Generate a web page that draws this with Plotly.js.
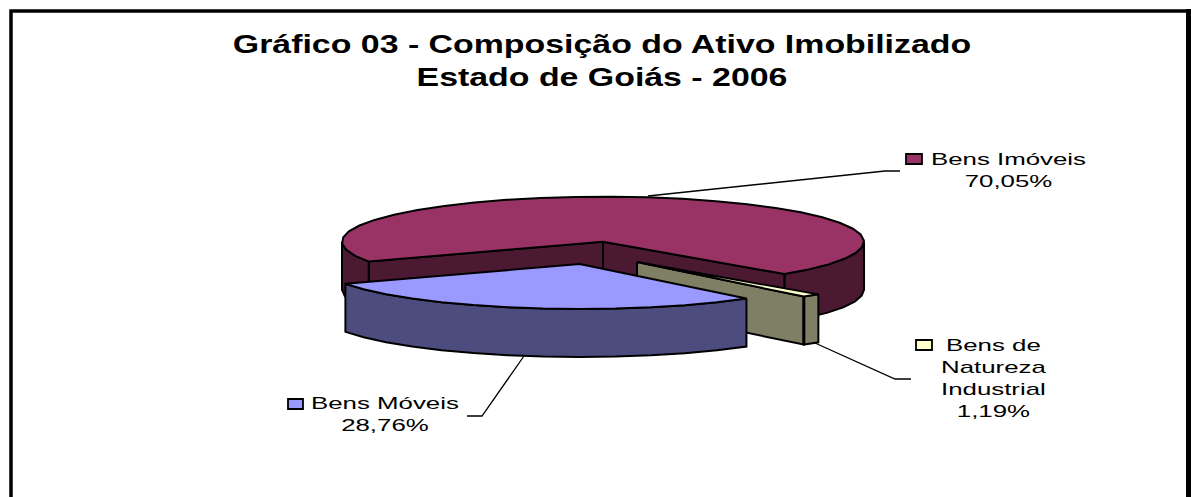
<!DOCTYPE html>
<html><head><meta charset="utf-8">
<script src="https://cdn.plot.ly/plotly-3.0.1.min.js"></script>
<style>
html,body{margin:0;padding:0;background:#fff}
#chart{width:1191px;height:497px}
.gtitle{transform-box:fill-box;transform-origin:center;transform:scaleX(1.355)}
.annotation-text{transform-box:fill-box;transform-origin:center;transform:scaleX(1.52)}
</style></head><body><div id="chart"></div>
<script>
const categories = ["Bens Imóveis", "Bens de Natureza Industrial", "Bens Móveis"];
const values = [70.05, 1.19, 28.76];
const titleLines = ["Gráfico 03 - Composição do Ativo Imobilizado", "Estado de Goiás - 2006"];
const topColors = ["#993366", "#ffffcc", "#9999ff"];
const sideColors = ["#4c1933", "#7f7f66", "#4c4c7f"];

const RX = 261, RY = 45, H = 48, START = 153.8, STEP = 8;
const centers = [[603, 241.7], [637, 262], [579.6, 264]];
const labelPos = [[1008, 170], [994, 378], [385, 414]];
const keyBoxes = [[906, 154, 922, 164], [916, 340, 932, 350], [288, 399, 303, 409]];
const leaders = [
  [[648, 196], [885, 171], [900, 171]],
  [[815, 343], [895, 379], [911, 379]],
  [[524, 356], [482, 416], [467, 416]]
];

const rad = d => d * Math.PI / 180;
const pt = (c, a, dy) => [c[0] + RX * Math.cos(rad(a)), c[1] + RY * Math.sin(rad(a)) + (dy || 0)];
function arc(c, a0, a1, dy) {
  const out = [];
  const n = Math.max(1, Math.round((a1 - a0) / STEP));
  for (let i = 0; i <= n; i++) out.push(pt(c, a0 + (a1 - a0) * i / n, dy));
  return out;
}
const traces = [];
function poly(points, fill, w) {
  const p = points.concat([points[0]]);
  traces.push({type: "scatter", mode: "lines", x: p.map(q => q[0]), y: p.map(q => q[1]),
    fill: "toself", fillcolor: fill, line: {color: "#000", width: w || 2, shape: "linear"},
    hoverinfo: "skip", showlegend: false});
}
function rim(c, a0, a1, col) {
  poly(arc(c, a0, a1, 0).concat(arc(c, a0, a1, H).reverse()), col);
}
function wall(c, a, col) {
  const t = pt(c, a);
  poly([c, t, [t[0], t[1] + H], [c[0], c[1] + H]], col);
}
function face(c, a0, a1, col) {
  poly([c].concat(arc(c, a0, a1, 0)), col);
}

const total = values.reduce((s, v) => s + v, 0);
const spans = [];
let acc = START;
values.forEach(v => { const e = acc + v / total * 360; spans.push([acc, e]); acc = e; });

// Bens Imóveis
rim(centers[0], spans[0][0], 180, sideColors[0]);
rim(centers[0], 360, spans[0][1], sideColors[0]);
wall(centers[0], spans[0][0], sideColors[0]);
wall(centers[0], spans[0][1], sideColors[0]);
face(centers[0], spans[0][0], spans[0][1], topColors[0]);
// Bens de Natureza Industrial
wall(centers[1], spans[1][1], sideColors[1]);
rim(centers[1], spans[1][0], spans[1][1], sideColors[1]);
face(centers[1], spans[1][0], spans[1][1], topColors[1]);
const edge = pt(centers[1], spans[1][1]);
traces.push({type: "scatter", mode: "lines", x: [edge[0], edge[0]], y: [edge[1], edge[1] + H],
  line: {color: "#000", width: 3}, hoverinfo: "skip", showlegend: false});
// Bens Móveis
rim(centers[2], spans[2][0], spans[2][1], sideColors[2]);
face(centers[2], spans[2][0], spans[2][1], topColors[2]);

// Leader lines
leaders.forEach(l => traces.push({type: "scatter", mode: "lines", x: l.map(q => q[0]), y: l.map(q => q[1]),
  line: {color: "#000", width: 1.3}, hoverinfo: "skip", showlegend: false}));

const wrapped = ["Bens Imóveis", "Bens de<br>Natureza<br>Industrial", "Bens Móveis"];
const annotations = categories.map((c, i) => ({
  xref: "x", yref: "y", x: labelPos[i][0], y: labelPos[i][1], xanchor: "center", yanchor: "middle",
  text: wrapped[i] + "<br>" + values[i].toFixed(2).replace(".", ",") + "%",
  showarrow: false, align: "center",
  font: {family: "Liberation Sans, Arial, sans-serif", size: 17, color: "#000"}
}));

const shapes = keyBoxes.map((b, i) => ({type: "rect", xref: "x", yref: "y", x0: b[0], y0: b[1], x1: b[2], y1: b[3],
  fillcolor: topColors[i], line: {color: "#000", width: 1.8}}));
shapes.push({type: "rect", xref: "x", yref: "y", x0: 11, y0: 11, x1: 1188, y1: 600, line: {color: "#000", width: 3.5}, fillcolor: "rgba(0,0,0,0)", layer: "below"});
shapes.push({type: "line", xref: "x", yref: "y", x0: 1188.5, y0: 9, x1: 1188.5, y1: 497, line: {color: "#000", width: 5}});

Plotly.newPlot("chart", traces, {
  width: 1191, height: 497,
  margin: {l: 0, r: 0, t: 0, b: 0},
  paper_bgcolor: "#fff", plot_bgcolor: "#fff",
  showlegend: false, hovermode: false,
  title: {text: titleLines.join("<br>"), x: 602 / 1191, xanchor: "center", xref: "paper",
    y: 1 - 53.5 / 497, yanchor: "top", yref: "container",
    font: {family: "Liberation Sans, Arial, sans-serif", size: 25, weight: 700, color: "#000"}},
  xaxis: {range: [0, 1191], visible: false, fixedrange: true},
  yaxis: {range: [497, 0], visible: false, fixedrange: true},
  annotations, shapes
}, {displayModeBar: false, staticPlot: true});
</script></body></html>
